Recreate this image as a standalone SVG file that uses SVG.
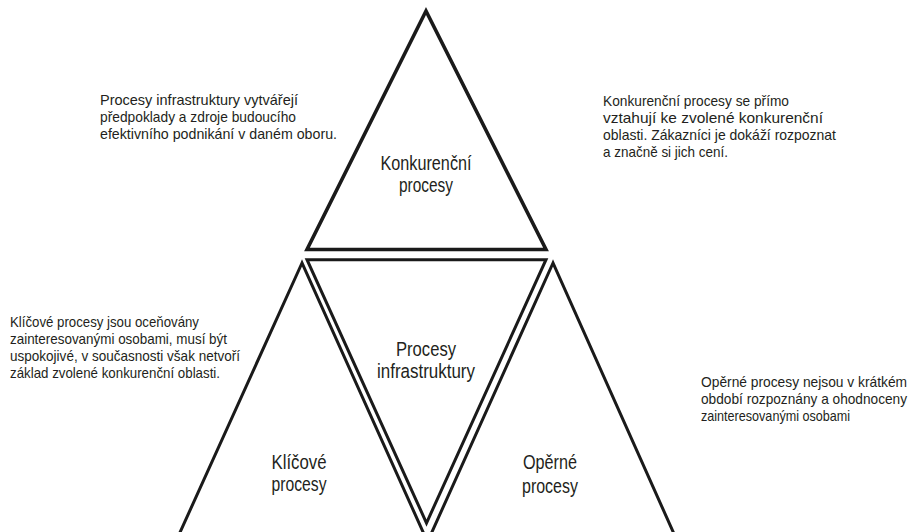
<svg xmlns="http://www.w3.org/2000/svg" width="914" height="532" viewBox="0 0 914 532">
<style>
.tri{fill:none;stroke:#1a1a1a;stroke-width:3;stroke-linejoin:miter;stroke-miterlimit:20}
.top{stroke-width:3.6}
.lbl{font-family:"Liberation Sans Narrow","Liberation Sans",Arial,sans-serif;font-size:20.5px;fill:#231f20;text-anchor:middle}
.txt{font-family:"Liberation Sans Narrow","Liberation Sans",Arial,sans-serif;font-size:15px;fill:#231f20}
</style>
<rect width="914" height="532" fill="#ffffff"/>
<g id="connectors"></g>
<g id="node-konkurencni">
<polygon class="tri top" points="426,11 307,249.5 546,249.5"/>
<text class="lbl" x="426" y="170" textLength="91" lengthAdjust="spacingAndGlyphs">Konkurenční</text>
<text class="lbl" x="426" y="192" textLength="54" lengthAdjust="spacingAndGlyphs">procesy</text>
</g>
<g id="node-infrastruktura">
<polygon class="tri" points="307,259.7 546,259.7 426.5,523"/>
<text class="lbl" x="426" y="356" textLength="60" lengthAdjust="spacingAndGlyphs">Procesy</text>
<text class="lbl" x="426" y="378" textLength="98" lengthAdjust="spacingAndGlyphs">infrastruktury</text>
</g>
<g id="node-klicove">
<polygon class="tri" points="302,263 174.3,545 428.9,545"/>
<text class="lbl" x="299" y="469" textLength="55" lengthAdjust="spacingAndGlyphs">Klíčové</text>
<text class="lbl" x="299" y="491" textLength="55" lengthAdjust="spacingAndGlyphs">procesy</text>
</g>
<g id="node-operne">
<polygon class="tri" points="553,263 426.1,545 679,545"/>
<text class="lbl" x="550" y="469" textLength="54" lengthAdjust="spacingAndGlyphs">Opěrné</text>
<text class="lbl" x="550" y="493" textLength="56" lengthAdjust="spacingAndGlyphs">procesy</text>
</g>
<g id="note-infrastruktura">
<text class="txt" x="100" y="105" textLength="198" lengthAdjust="spacingAndGlyphs">Procesy infrastruktury vytvářejí</text>
<text class="txt" x="100" y="122" textLength="196" lengthAdjust="spacingAndGlyphs">předpoklady a zdroje budoucího</text>
<text class="txt" x="100" y="139" textLength="237" lengthAdjust="spacingAndGlyphs">efektivního podnikání v daném oboru.</text>
</g>
<g id="note-konkurencni">
<text class="txt" x="603" y="106" textLength="186" lengthAdjust="spacingAndGlyphs">Konkurenční procesy se přímo</text>
<text class="txt" x="603" y="123" textLength="220" lengthAdjust="spacingAndGlyphs">vztahují ke zvolené konkurenční</text>
<text class="txt" x="603" y="140" textLength="233" lengthAdjust="spacingAndGlyphs">oblasti. Zákazníci je dokáží rozpoznat</text>
<text class="txt" x="603" y="157" textLength="125" lengthAdjust="spacingAndGlyphs">a značně si jich cení.</text>
</g>
<g id="note-klicove">
<text class="txt" x="10" y="327" textLength="189" lengthAdjust="spacingAndGlyphs">Klíčové procesy jsou oceňovány</text>
<text class="txt" x="10" y="344" textLength="217" lengthAdjust="spacingAndGlyphs">zainteresovanými osobami, musí být</text>
<text class="txt" x="10" y="361" textLength="230" lengthAdjust="spacingAndGlyphs">uspokojivé, v současnosti však netvoří</text>
<text class="txt" x="10" y="378" textLength="210" lengthAdjust="spacingAndGlyphs">základ zvolené konkurenční oblasti.</text>
</g>
<g id="note-operne" transform="translate(701,0) scale(0.92,1)">
<text class="txt" x="0" y="387" textLength="224" lengthAdjust="spacingAndGlyphs">Opěrné procesy nejsou v krátkém</text>
<text class="txt" x="0" y="404" textLength="224" lengthAdjust="spacingAndGlyphs">období rozpoznány a ohodnoceny</text>
<text class="txt" x="0" y="421" textLength="162" lengthAdjust="spacingAndGlyphs">zainteresovanými osobami</text>
</g>
</svg>
